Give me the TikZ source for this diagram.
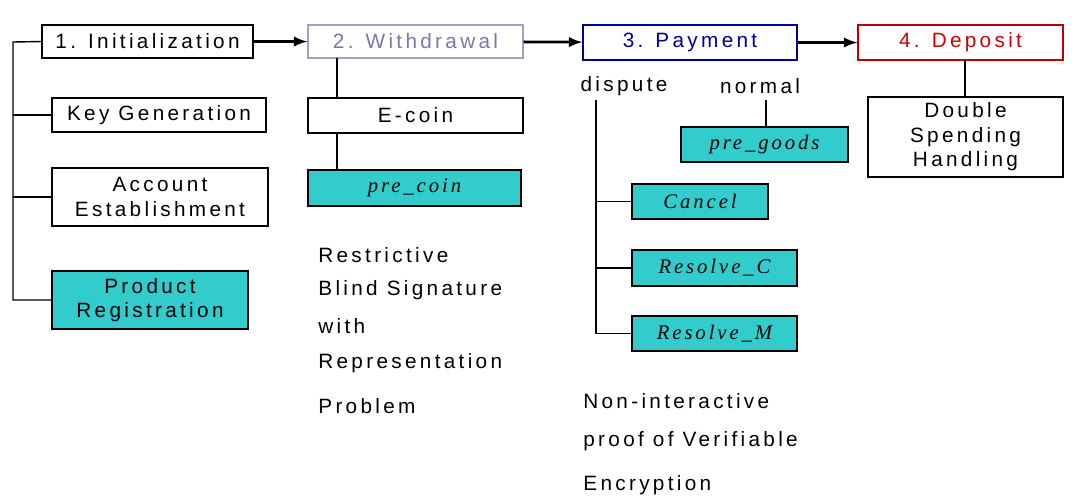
\documentclass[tikz,border=0pt]{standalone}
\usepackage{fontspec}
\setmainfont[LetterSpace=16]{Liberation Sans}
\newfontfamily\itf[LetterSpace=14]{Liberation Serif}
\begin{document}
\begin{tikzpicture}[x=0.02cm,y=-0.02cm,
  bx/.style={draw,thick,inner sep=0pt,font=\fontsize{11.8}{14}\selectfont,align=center},
  it/.style={font=\fontsize{11.8}{14}\selectfont\itf\itshape},
  ln/.style={thick},
  ar/.style={line width=1.6pt,-latex},
  tx/.style={font=\fontsize{11.8}{14}\selectfont,anchor=west,inner sep=0pt}]
\definecolor{tealc}{RGB}{51,204,204}
\definecolor{wdc}{RGB}{120,120,170}
\tikzset{tl/.style={bx,fill=tealc}}
\useasboundingbox (0,0) rectangle (1074,495);
% top row
\node[bx,minimum width=211*0.02cm,minimum height=33*0.02cm] (init) at (147.5,41.5) {1. Initialization};
\node[bx,draw=wdc!70,text=wdc,minimum width=215*0.02cm,minimum height=33*0.02cm] (wd) at (415.5,41.5) {2. Withdrawal};
\node[bx,draw=blue!60!black,text=blue!60!black,minimum width=214*0.02cm,minimum height=35*0.02cm] (pay) at (690,42.5) {3. Payment};
\node[bx,draw=red!75!black,text=red!80!black,minimum width=205*0.02cm,minimum height=35*0.02cm] (dep) at (960.5,42.5) {4. Deposit};
\draw[ar] (init) -- (wd);
\draw[ar] (wd) -- (pay);
\draw[ar] (pay) -- (dep);
% initialization
\node[bx,minimum width=214*0.02cm,minimum height=34*0.02cm] (kg) at (159,115) {Key Generation};
\node[bx,minimum width=216*0.02cm,minimum height=58*0.02cm] (ae) at (160,197) {Account\\Establishment};
\node[tl,minimum width=196*0.02cm,minimum height=58*0.02cm] (pr) at (150,300) {Product\\Registration};
\coordinate (l0) at (13,42);
\coordinate (l3) at (13,300);
\draw[ln] (init.west) -- (l0) -- (l3) -- (pr.west);
\draw[ln] (13,115) -- (kg.west);
\draw[ln] (13,197) -- (ae.west);
% withdrawal
\node[bx,minimum width=215*0.02cm,minimum height=35*0.02cm] (ec) at (415.5,115.5) {E-coin};
\node[tl,minimum width=213*0.02cm,minimum height=36*0.02cm,it] (pc) at (414.5,188) {pre\_coin};
\draw[ln] (337,58) -- (337,98);
\draw[ln] (337,133) -- (337,170);
\node[tx] (rb1) at (318,255) {Restrictive};
\node[tx] (rb2) at (318,290) {Blind Signature};
\node[tx] (rb3) at (318,326) {with};
\node[tx] (rb4) at (318,363) {Representation};
\node[tx] (rb5) at (318,406) {Problem};
% payment
\node[font=\fontsize{11.8}{14}\selectfont,inner sep=0pt] (dis) at (624,86) {dispute};
\node[font=\fontsize{11.8}{14}\selectfont,inner sep=0pt] (nor) at (760,86) {normal};
\node[tl,it,minimum width=167*0.02cm,minimum height=35*0.02cm] (pg) at (764.5,144.5) {pre\_goods};
\draw[ln] (766,100) -- (pg.north -| 766,0);
\node[tl,it,minimum width=136*0.02cm,minimum height=35*0.02cm] (ca) at (700,201.5) {Cancel};
\node[tl,it,minimum width=165*0.02cm,minimum height=36*0.02cm] (rc) at (714.5,268) {Resolve\_C};
\node[tl,it,minimum width=165*0.02cm,minimum height=35*0.02cm] (rm) at (714.5,333.5) {Resolve\_M};
\coordinate (d0) at (596,100);
\coordinate (d1) at (596,333.5);
\draw[ln] (d0) -- (d1) -- (rm.west);
\draw[ln] (596,201.5) -- (ca.west);
\draw[ln] (596,268) -- (rc.west);
\node[tx] (ni1) at (583,401) {Non-interactive};
\node[tx] (ni2) at (583,441) {proof of Verifiable};
\node[tx] (ni3) at (583,485) {Encryption};
% deposit
\node[bx,minimum width=195*0.02cm,minimum height=80*0.02cm] (ds) at (965.5,137) {Double\\Spending\\Handling};
\draw[ln] (965,60) -- (ds.north -| 965,0);
\end{tikzpicture}
\end{document}
